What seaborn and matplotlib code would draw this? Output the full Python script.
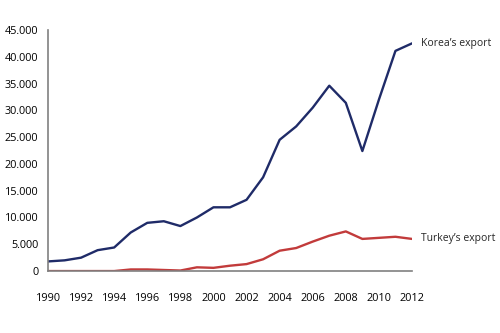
import matplotlib
matplotlib.use("Agg")
import matplotlib.pyplot as plt
import matplotlib.ticker as mticker
import seaborn as sns
import pandas as pd

years = list(range(1990, 2013))
korea_export = [1800, 2000, 2500, 3900, 4400, 7200, 9000, 9300, 8400, 10000,
                11900, 11900, 13300, 17500, 24500, 27000, 30500, 34600, 31400,
                22400, 32000, 41100, 42500]
turkey_export = [0, 0, 0, 0, 0, 300, 300, 200, 100, 700,
                 600, 1000, 1300, 2200, 3800, 4300, 5500, 6600, 7400,
                 6000, 6200, 6400, 6000]
series_labels = ["Korea\u2019s export", "Turkey\u2019s export"]
x_ticks = list(range(1990, 2013, 2))
y_ticks = list(range(0, 45001, 5000))

df = pd.DataFrame({"year": years * 2,
                   "value": korea_export + turkey_export,
                   "series": [series_labels[0]] * len(years) + [series_labels[1]] * len(years)})

sns.set_style("white")
plt.rcParams["font.family"] = ["Open Sans", "DejaVu Sans"]

fig = plt.figure(figsize=(5, 3.33), dpi=100)
ax = fig.add_axes([0.096, 0.186, 0.728, 0.724])

palette = {series_labels[0]: "#1f2b68", series_labels[1]: "#c23b3b"}
sns.lineplot(data=df, x="year", y="value", hue="series", palette=palette,
             linewidth=1.7, ax=ax, legend=False)

ax.set_xlim(1990, 2012)
ax.set_ylim(0, 45000)
ax.set_xticks(x_ticks)
ax.set_yticks(y_ticks)
ax.yaxis.set_major_formatter(mticker.FuncFormatter(
    lambda v, p: f"{int(v):,}".replace(",", ".")))
ax.set_xlabel("")
ax.set_ylabel("")

for side in ["top", "right"]:
    ax.spines[side].set_visible(False)
for side in ["left", "bottom"]:
    ax.spines[side].set_color("#808080")
    ax.spines[side].set_linewidth(1.2)

ax.tick_params(axis="both", which="major", direction="out", length=4,
               width=1, color="#808080", labelsize=7.8, labelcolor="#000000")
ax.tick_params(axis="x", pad=12)
ax.tick_params(axis="y", pad=3)

ax.text(2012.55, korea_export[-1], series_labels[0], fontsize=7.5, va="center", ha="left")
ax.text(2012.55, turkey_export[-1], series_labels[1], fontsize=7.5, va="center", ha="left")

fig.savefig("out.png", dpi=100)
